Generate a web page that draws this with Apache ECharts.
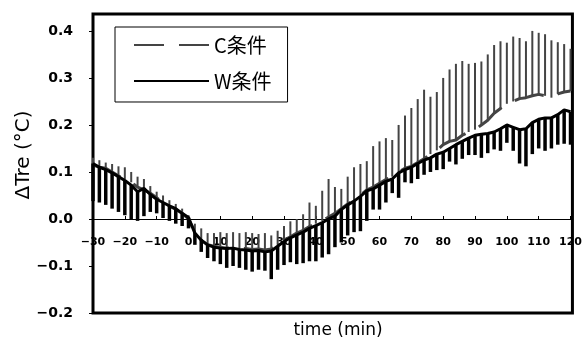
<!DOCTYPE html>
<html>
<head>
<meta charset="utf-8">
<script src="https://cdn.jsdelivr.net/npm/echarts@6/dist/echarts.min.js"></script>
<style>
html,body{margin:0;padding:0;background:#fff;}
#chart{width:585px;height:344px;}
</style>
</head>
<body>
<div id="chart"></div>
<script>
// time (min)
const times = [-30,-28,-26,-24,-22,-20,-18,-16,-14,-12,-10,-8,-6,-4,-2,0,2,4,6,8,10,12,14,16,18,20,22,24,26,28,30,32,34,36,38,40,42,44,46,48,50,52,54,56,58,60,62,64,66,68,70,72,74,76,78,80,82,84,86,88,90,92,94,96,98,100,102,104,106,108,110,112,114,116,118,120];

// W condition: mean and mean-SD
const wMean = [0.118,0.110,0.105,0.098,0.090,0.082,0.072,0.058,0.065,0.052,0.042,0.035,0.028,0.022,0.012,0.003,-0.030,-0.045,-0.055,-0.060,-0.062,-0.063,-0.062,-0.065,-0.066,-0.068,-0.067,-0.070,-0.068,-0.058,-0.048,-0.040,-0.034,-0.028,-0.020,-0.014,-0.008,0.000,0.006,0.020,0.030,0.038,0.048,0.060,0.064,0.072,0.080,0.085,0.098,0.105,0.110,0.118,0.125,0.130,0.138,0.142,0.150,0.158,0.165,0.172,0.178,0.180,0.182,0.185,0.192,0.200,0.195,0.190,0.192,0.205,0.212,0.215,0.215,0.222,0.232,0.228];
const wLower = [0.038,0.035,0.030,0.022,0.015,0.008,0.000,-0.004,0.006,0.015,0.012,0.002,-0.004,-0.010,-0.015,-0.020,-0.055,-0.070,-0.083,-0.090,-0.096,-0.104,-0.100,-0.104,-0.108,-0.112,-0.108,-0.110,-0.128,-0.108,-0.098,-0.092,-0.096,-0.094,-0.090,-0.090,-0.082,-0.075,-0.060,-0.050,-0.035,-0.028,-0.026,-0.004,0.020,0.020,0.035,0.055,0.045,0.078,0.076,0.085,0.094,0.100,0.104,0.106,0.122,0.116,0.128,0.136,0.136,0.130,0.140,0.148,0.145,0.162,0.145,0.118,0.112,0.138,0.150,0.145,0.150,0.158,0.160,0.158];

// C condition: mean and mean+SD
const cMean = [0.115,0.110,0.108,0.100,0.092,0.085,0.078,0.068,0.062,0.055,0.045,0.035,0.028,0.020,0.012,0.000,-0.028,-0.045,-0.055,-0.058,-0.060,-0.062,-0.062,-0.063,-0.063,-0.065,-0.064,-0.066,-0.064,-0.055,-0.045,-0.038,-0.030,-0.024,-0.016,-0.010,-0.004,0.004,0.012,0.022,0.032,0.040,0.050,0.062,0.068,0.076,0.084,0.090,0.100,0.108,0.112,0.120,0.128,0.138,0.146,0.158,0.165,0.168,0.178,0.185,0.190,0.200,0.210,0.225,0.235,0.245,0.250,0.256,0.258,0.262,0.265,0.262,0.258,0.266,0.270,0.272];
const cUpper = [0.130,0.125,0.120,0.117,0.112,0.110,0.100,0.090,0.085,0.070,0.058,0.050,0.040,0.032,0.022,0.008,-0.010,-0.020,-0.030,-0.030,-0.028,-0.030,-0.028,-0.030,-0.028,-0.030,-0.032,-0.030,-0.035,-0.025,-0.015,-0.005,0.000,0.010,0.035,0.028,0.060,0.085,0.068,0.064,0.090,0.110,0.117,0.123,0.155,0.165,0.172,0.168,0.200,0.220,0.236,0.255,0.275,0.260,0.270,0.300,0.318,0.330,0.336,0.330,0.332,0.335,0.350,0.370,0.378,0.375,0.388,0.385,0.378,0.400,0.396,0.393,0.380,0.376,0.372,0.362];

const seriesNames = ['C条件', 'W条件'];
const xTitle = 'time (min)';
const yTitle = 'ΔTre (°C)';

function errBar(color, width) {
  return function (params, api) {
    const p1 = api.coord([api.value(0), api.value(1)]);
    const p2 = api.coord([api.value(0), api.value(2)]);
    return {
      type: 'line',
      shape: { x1: p1[0], y1: p1[1], x2: p2[0], y2: p2[1] },
      style: { stroke: color, lineWidth: width }
    };
  };
}

const chart = echarts.init(document.getElementById('chart'), null, { renderer: 'canvas' });
chart.setOption({
  animation: false,
  backgroundColor: '#fff',
  grid: { left: 93, right: 9, top: 14, bottom: 31, show: true, borderColor: '#000', borderWidth: 3, backgroundColor: 'transparent' },
  legend: {
    show: true,
    data: seriesNames,
    orient: 'vertical',
    left: 115, top: 27,
    padding: [8, 16, 11, 18],
    itemGap: 16,
    itemWidth: 75, itemHeight: 20,
    borderColor: '#000', borderWidth: 1,
    backgroundColor: '#fff',
    itemStyle: { opacity: 0 },
    textStyle: { fontFamily: 'Noto Sans CJK JP', fontSize: 20, color: '#000' }
  },
  xAxis: {
    type: 'value', min: -30, max: 120.6, interval: 10,
    position: 'bottom', offset: -94,
    axisLine: { onZero: false, lineStyle: { color: '#000', width: 1 } },
    axisTick: { show: true, inside: true, length: 3, lineStyle: { color: '#000' } },
    splitLine: { show: false },
    axisLabel: {
      margin: 18, fontFamily: 'DejaVu Sans', fontWeight: 'bold', fontSize: 11, color: '#000',
      showMaxLabel: false,
      formatter: function (v) { return (Math.abs(v % 10) < 1e-6) ? String(v).replace('-', '−') : ''; }
    }
  },
  yAxis: {
    type: 'value', min: -0.2, max: 0.436, interval: 0.1,
    axisLine: { show: false, onZero: false },
    axisTick: { show: true, inside: false, length: 4, lineStyle: { color: '#000' } },
    splitLine: { show: false },
    axisLabel: {
      margin: 20, fontFamily: 'DejaVu Sans', fontWeight: 'bold', fontSize: 14, color: '#000',
      showMaxLabel: false,
      formatter: function (v) {
        const k = v * 10;
        if (Math.abs(k - Math.round(k)) > 1e-6) return '';
        return v.toFixed(1).replace('-', '−');
      }
    }
  },
  graphic: [
    { type: 'text', x: 338, y: 331, style: { text: xTitle, textAlign: 'center', textVerticalAlign: 'middle', fontFamily: 'DejaVu Sans', fontSize: 17, fill: '#000' }, z: 10 },
    { type: 'text', x: 24, y: 155, rotation: Math.PI / 2, style: { text: yTitle, textAlign: 'center', textVerticalAlign: 'middle', fontFamily: 'DejaVu Sans', fontSize: 20, fill: '#000' }, z: 10 }
  ],
  series: [
    {
      name: 'C条件 SD', type: 'custom', z: 2,
      renderItem: errBar('#444', 2),
      data: times.map((t, i) => [t, cMean[i], cUpper[i]]),
      encode: { x: 0, y: [1, 2] }, silent: true
    },
    {
      name: seriesNames[0], type: 'line', z: 3, symbol: 'none', showSymbol: false,
      lineStyle: { color: '#444', width: 3, type: [30, 15] },
      itemStyle: { color: '#444' },
      data: times.map((t, i) => [t, cMean[i]])
    },
    {
      name: 'W条件 SD', type: 'custom', z: 4,
      renderItem: errBar('#000', 3.5),
      data: times.map((t, i) => [t, wMean[i], wLower[i]]),
      encode: { x: 0, y: [1, 2] }, silent: true
    },
    {
      name: seriesNames[1], type: 'line', z: 5, symbol: 'none', showSymbol: false,
      lineStyle: { color: '#000', width: 3 },
      itemStyle: { color: '#000' },
      data: times.map((t, i) => [t, wMean[i]])
    }
  ]
});
</script>
</body>
</html>
